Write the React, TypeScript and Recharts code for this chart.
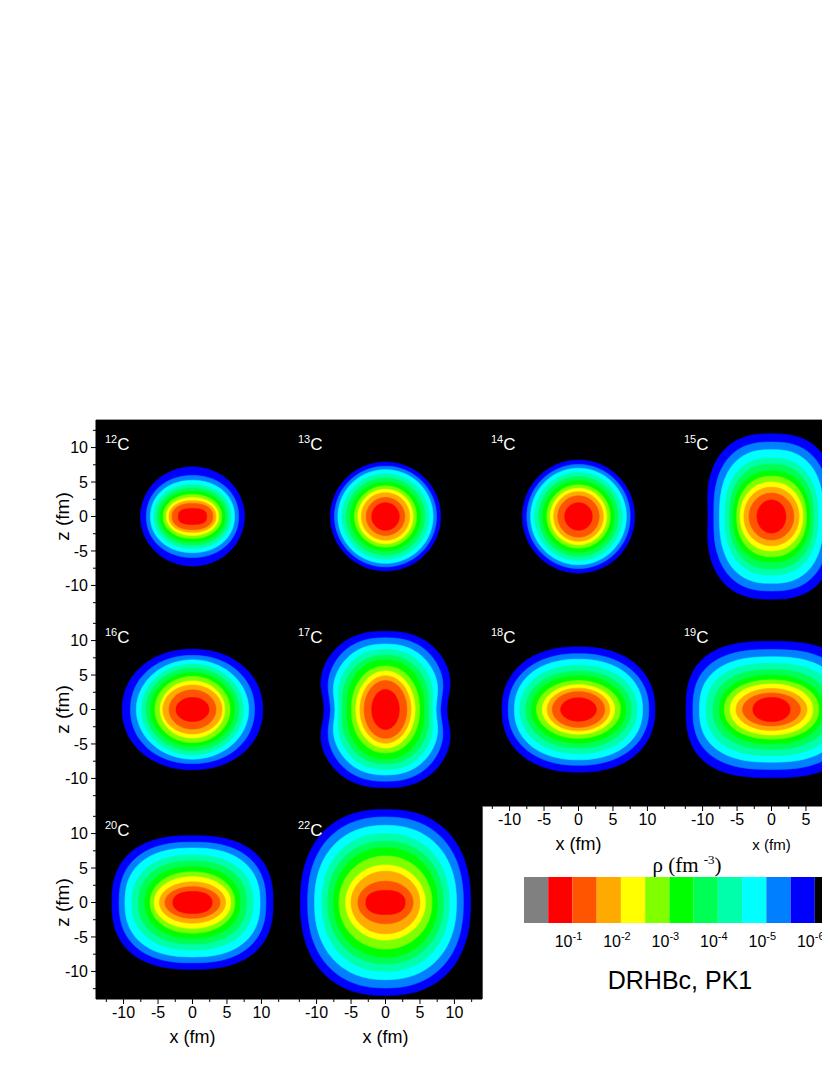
import React from 'react';
import { ScatterChart, Scatter, XAxis, YAxis, CartesianGrid, BarChart, Bar } from 'recharts';

// contour levels, outermost (1e-6) to innermost (1e-0.5)
const LEVEL_COLORS = ['#0000ff', '#0080ff', '#00ffff', '#00ffaa', '#00ff55', '#00ff00', '#80ff00', '#ffff00', '#ffaa00', '#ff5500', '#ff0000'];

// colour bar cells, left to right
const BAR_COLORS = ['#808080', '#ff0000', '#ff5500', '#ffaa00', '#ffff00', '#80ff00', '#00ff00', '#00ff55', '#00ffaa', '#00ffff', '#0080ff', '#0000ff', '#000000'];
const BAR_SEGMENTS = [1, 1, 1, 1, 1, 1, 1, 1, 1, 1, 1, 1, 1];
const BAR_TICKS = [2, 4, 6, 8, 10, 12];
const BAR_EXPONENTS = ['-1', '-2', '-3', '-4', '-5', '-6'];

const AXIS_TICKS = [-12.5, -10, -7.5, -5, -2.5, 0, 2.5, 5, 7.5, 10, 12.5];
const EDGE_TICKS = [-12.5, -10, -7.5, -5, -2.5, 0, 2.5, 5, 7.5];
const MAJOR_TICKS = [-10, -5, 0, 5, 10];

// half-width in x, half-height in z (fm), squareness, for each level (outer -> inner)
const C12_RX = [7.55, 6.7, 6.1, 5.6, 5.15, 4.7, 4.25, 3.8, 3.4, 2.95, 2.05];
const C12_RZ = [7.2, 5.95, 5.25, 4.65, 4.15, 3.7, 3.2, 2.75, 2.3, 1.9, 1.15];
const C12_SQ = [2.0, 2.1, 2.1, 2.1, 2.1, 2.1, 2.1, 2.1, 2.2, 2.3, 2.8];

const C13_RX = [8.0, 7.4, 6.9, 6.3, 5.7, 5.1, 4.5, 4.0, 3.5, 2.8, 2.0];
const C13_RZ = [7.9, 7.3, 6.8, 6.2, 5.6, 5.0, 4.45, 3.95, 3.45, 2.75, 2.0];
const C13_SQ = [2, 2, 2, 2, 2, 2, 2, 2, 2, 2, 2];

const C14_RX = [8.15, 7.5, 6.95, 6.35, 5.75, 5.2, 4.6, 4.1, 3.6, 3.0, 2.0];
const C14_RZ = [8.2, 7.55, 7.0, 6.4, 5.8, 5.2, 4.6, 4.1, 3.6, 3.0, 2.0];
const C14_SQ = [2, 2, 2, 2, 2, 2, 2, 2, 2, 2, 2];

const C15_RX = [9.5, 8.45, 7.55, 6.75, 6.1, 5.55, 5.05, 4.55, 4.0, 3.25, 2.1];
const C15_RZ = [12.0, 10.8, 9.7, 8.5, 7.6, 6.6, 5.85, 5.0, 4.25, 3.4, 2.4];
const C15_SQ = [2.6, 2.55, 2.5, 2.4, 2.35, 2.3, 2.2, 2.1, 2.05, 2.0, 2.0];
const C15_WAIST = [0.03, 0.01, 0, 0, 0, 0, 0, 0, 0, 0, 0];

const C16_RX = [10.2, 9.0, 8.15, 7.4, 6.75, 6.1, 5.45, 4.7, 4.3, 3.4, 2.4];
const C16_RZ = [8.75, 7.85, 7.2, 6.6, 6.0, 5.35, 4.8, 4.15, 3.55, 2.85, 1.75];
const C16_SQ = [2.1, 2.1, 2, 2, 2, 2, 2, 2, 2, 2, 2];

const C17_RX = [10.0, 8.85, 8.05, 7.2, 6.5, 5.7, 4.95, 4.3, 3.7, 3.1, 2.0];
const C17_RZ = [11.35, 10.4, 9.5, 8.7, 7.9, 7.2, 6.3, 5.6, 4.9, 4.2, 2.9];
const C17_SQ = [2.4, 2.4, 2.3, 2.3, 2.2, 2.2, 2.1, 2.0, 2.0, 2.0, 2.0];
const C17_WAIST = [0.11, 0.1, 0.09, 0.06, 0.035, 0.02, 0, 0, 0, 0, 0];

const C18_RX = [11.1, 10.2, 9.3, 8.5, 7.65, 6.85, 6.1, 5.25, 4.55, 3.8, 2.6];
const C18_RZ = [9.1, 8.1, 7.3, 6.4, 5.6, 4.9, 4.2, 3.6, 3.1, 2.6, 1.7];
const C18_SQ = [2.25, 2.2, 2.2, 2.15, 2.1, 2.05, 2.0, 2.0, 2.0, 2.0, 2.0];

const C19_RX = [12.4, 11.4, 10.45, 9.5, 8.5, 7.55, 6.85, 6.0, 5.15, 4.2, 2.7];
const C19_RZ = [9.9, 8.7, 7.65, 6.7, 5.8, 5.0, 4.3, 3.7, 3.05, 2.4, 1.75];
const C19_SQ = [2.7, 2.6, 2.5, 2.4, 2.3, 2.2, 2.15, 2.1, 2.0, 2.0, 2.1];

const C20_RX = [11.7, 10.65, 9.8, 8.8, 7.85, 6.9, 6.15, 5.55, 4.8, 4.0, 2.85];
const C20_RZ = [9.7, 8.75, 7.9, 6.9, 6.05, 5.2, 4.45, 3.75, 3.0, 2.3, 1.6];
const C20_SQ = [2.5, 2.45, 2.4, 2.3, 2.25, 2.2, 2.1, 2.05, 2.0, 2.0, 2.3];

const C22_RX = [12.35, 11.3, 10.3, 9.25, 8.4, 7.55, 6.75, 5.8, 5.0, 4.0, 2.85];
const C22_RZ = [13.5, 12.4, 11.2, 10.0, 8.9, 7.95, 6.75, 5.45, 4.55, 3.1, 1.75];
const C22_SQ = [2.35, 2.3, 2.25, 2.2, 2.15, 2.1, 2.05, 2.0, 2.0, 2.0, 2.4];

const NUCLEI = [
  { mass: '12', rx: C12_RX, rz: C12_RZ, sq: C12_SQ, waist: null },
  { mass: '13', rx: C13_RX, rz: C13_RZ, sq: C13_SQ, waist: null },
  { mass: '14', rx: C14_RX, rz: C14_RZ, sq: C14_SQ, waist: null },
  { mass: '15', rx: C15_RX, rz: C15_RZ, sq: C15_SQ, waist: C15_WAIST },
  { mass: '16', rx: C16_RX, rz: C16_RZ, sq: C16_SQ, waist: null },
  { mass: '17', rx: C17_RX, rz: C17_RZ, sq: C17_SQ, waist: C17_WAIST },
  { mass: '18', rx: C18_RX, rz: C18_RZ, sq: C18_SQ, waist: null },
  { mass: '19', rx: C19_RX, rz: C19_RZ, sq: C19_SQ, waist: null },
  { mass: '20', rx: C20_RX, rz: C20_RZ, sq: C20_SQ, waist: null },
  { mass: '22', rx: C22_RX, rz: C22_RZ, sq: C22_SQ, waist: null },
];

// page layout
const COL_LEFT = [96, 289, 482, 675];
const ROW_TOP = [420, 613, 806];
const CELL = 193;
const YW = 56;
const XH = 48;
const TICK = 5;
const MINOR = 3;
const GAP = 3;
const TICK_FONT = 16;

const LAYOUT = [
  { row: 0, col: 0, yAxis: true, xAxis: false, xLabel: 18 },
  { row: 0, col: 1, yAxis: false, xAxis: false, xLabel: 18 },
  { row: 0, col: 2, yAxis: false, xAxis: false, xLabel: 18 },
  { row: 0, col: 3, yAxis: false, xAxis: false, xLabel: 18 },
  { row: 1, col: 0, yAxis: true, xAxis: false, xLabel: 18 },
  { row: 1, col: 1, yAxis: false, xAxis: false, xLabel: 18 },
  { row: 1, col: 2, yAxis: false, xAxis: true, xLabel: 18 },
  { row: 1, col: 3, yAxis: false, xAxis: true, xLabel: 15 },
  { row: 2, col: 0, yAxis: true, xAxis: true, xLabel: 18 },
  { row: 2, col: 1, yAxis: false, xAxis: true, xLabel: 18 },
];

// outline of one density level from its read radii
const outline = (rx: number, rz: number, n: number, waist: number) => {
  const pts = [];
  const N = 80;
  for (let i = 0; i < N; i++) {
    const t = (2 * Math.PI * i) / N;
    const c = Math.cos(t);
    const s = Math.sin(t);
    const y = rz * Math.sign(s) * Math.pow(Math.abs(s), 2 / n);
    const pinch = 1 - waist * Math.exp(-Math.pow(y / (0.3 * rz), 2));
    const x = rx * Math.sign(c) * Math.pow(Math.abs(c), 2 / n) * pinch;
    pts.push({ x, y });
  }
  return pts;
};

const noDot = () => <g />;

const YTick = ({ x, y, payload }: any) => {
  const v = payload.value;
  const major = MAJOR_TICKS.includes(v);
  const ax = x + TICK + GAP;
  return (
    <g>
      <line x1={ax} x2={ax - (major ? TICK : MINOR)} y1={y} y2={y} stroke="#000" />
      {major && (
        <text x={x} y={y} dy="0.35em" textAnchor="end" fontSize={TICK_FONT} fill="#000">
          {v}
        </text>
      )}
    </g>
  );
};

const XTick = ({ x, y, payload }: any) => {
  const v = payload.value;
  const major = MAJOR_TICKS.includes(v);
  const ay = y - TICK - GAP;
  return (
    <g>
      <line x1={x} x2={x} y1={ay} y2={ay + (major ? TICK : MINOR)} stroke="#000" />
      {major && (
        <text x={x} y={y} dy="0.71em" textAnchor="middle" fontSize={TICK_FONT} fill="#000">
          {v}
        </text>
      )}
    </g>
  );
};

const BarTick = ({ x, y, payload }: any) => {
  const i = BAR_TICKS.indexOf(payload.value);
  return (
    <text x={x} y={y} dy={16} dx={-4} textAnchor="middle" fontSize={16} fill="#000">
      <tspan>10</tspan>
      <tspan dy={-7} fontSize={11}>{BAR_EXPONENTS[i]}</tspan>
    </text>
  );
};

const Panel = ({ nucleus, lay }: any) => {
  const width = CELL + (lay.yAxis ? YW : 0);
  const height = CELL + (lay.xAxis ? XH : 0);
  const levels = nucleus.rx.map((rx: number, i: number) =>
    outline(rx, nucleus.rz[i], nucleus.sq[i], nucleus.waist ? nucleus.waist[i] : 0)
  );
  return (
    <div style={{ position: 'absolute', left: COL_LEFT[lay.col] - (lay.yAxis ? YW : 0) - 8, top: ROW_TOP[lay.row] - 8 }}>
      <ScatterChart width={width} height={height} margin={{ top: 0, right: 0, bottom: 0, left: 0 }}>
        <CartesianGrid fill="#000" stroke="none" horizontal={false} vertical={false} />
        <XAxis
          type="number"
          dataKey="x"
          domain={[-14, 14]}
          ticks={lay.col === 3 ? EDGE_TICKS : AXIS_TICKS}
          interval={0}
          allowDataOverflow
          hide={!lay.xAxis}
          height={XH}
          tickSize={TICK}
          tickMargin={GAP}
          tickLine={false}
          axisLine={{ stroke: '#000' }}
          tick={(props: any) => <XTick {...props} />}
          label={{ value: 'x (fm)', position: 'insideBottom', offset: 4, fontSize: lay.xLabel, fill: '#000' }}
        />
        <YAxis
          type="number"
          dataKey="y"
          domain={[-14, 14]}
          ticks={AXIS_TICKS}
          interval={0}
          allowDataOverflow
          hide={!lay.yAxis}
          width={YW}
          tickSize={TICK}
          tickMargin={GAP}
          tickLine={false}
          axisLine={{ stroke: '#000' }}
          tick={(props: any) => <YTick {...props} />}
          label={{ value: 'z (fm)', angle: -90, position: 'insideLeft', offset: 22, fontSize: 19, fill: '#000', style: { textAnchor: 'middle' } }}
        />
        {levels.map((pts: any[], i: number) => (
          <Scatter
            key={i}
            data={pts}
            fill={LEVEL_COLORS[i]}
            line={{ fill: LEVEL_COLORS[i], stroke: LEVEL_COLORS[i], strokeWidth: 0.6 }}
            lineType="joint"
            lineJointType="linearClosed"
            shape={noDot}
            isAnimationActive={false}
          />
        ))}
      </ScatterChart>
      <div
        style={{
          position: 'absolute',
          left: (lay.yAxis ? YW : 0) + 9,
          top: 9,
          color: '#fff',
          fontSize: 17,
          lineHeight: '20px',
        }}
      >
        <sup style={{ fontSize: 11 }}>{nucleus.mass}</sup>C
      </div>
    </div>
  );
};

export default function App() {
  const barRow = [BAR_SEGMENTS.reduce((o: any, v, i) => ({ ...o, [`s${i}`]: v }), { k: 'rho' })];
  return (
    <div
      style={{
        position: 'relative',
        width: 822,
        height: 1050,
        overflow: 'hidden',
        fontFamily: "'Liberation Sans', Arial, sans-serif",
        background: '#fff',
      }}
    >
      <div style={{ position: 'absolute', left: 96 - 8, top: 419 - 8, width: 822, height: 1, background: '#999' }} />
      {NUCLEI.map((n, i) => (
        <Panel key={n.mass} nucleus={n} lay={LAYOUT[i]} />
      ))}
      <div style={{ position: 'absolute', left: 482 - 8, top: 806 - 8, width: 1, height: 193, background: '#555' }} />

      <div
        style={{
          position: 'absolute',
          left: 687 - 8 - 80,
          top: 840,
          width: 160,
          textAlign: 'center',
          fontFamily: "'Liberation Serif', 'Times New Roman', serif",
          fontSize: 21,
          lineHeight: '24px',
        }}
      >
        ρ (fm <sup style={{ fontSize: 13 }}>-3</sup>)
      </div>

      <div style={{ position: 'absolute', left: 524 - 8, top: 877 - 8 }}>
        <BarChart
          width={315}
          height={80}
          data={barRow}
          layout="vertical"
          barCategoryGap={0}
          margin={{ top: 0, right: 0, bottom: 0, left: 0 }}
        >
          <XAxis
            type="number"
            domain={[0, 13]}
            ticks={BAR_TICKS}
            interval={0}
            height={34}
            axisLine={false}
            tickLine={false}
            tick={(props: any) => <BarTick {...props} />}
          />
          <YAxis type="category" dataKey="k" hide />
          {BAR_COLORS.map((c, i) => (
            <Bar key={i} dataKey={`s${i}`} stackId="cb" fill={c} isAnimationActive={false} />
          ))}
        </BarChart>
      </div>

      <div
        style={{
          position: 'absolute',
          left: 680 - 8 - 100,
          top: 958,
          width: 200,
          textAlign: 'center',
          fontSize: 25,
          lineHeight: '29px',
        }}
      >
        DRHBc, PK1
      </div>
    </div>
  );
}
